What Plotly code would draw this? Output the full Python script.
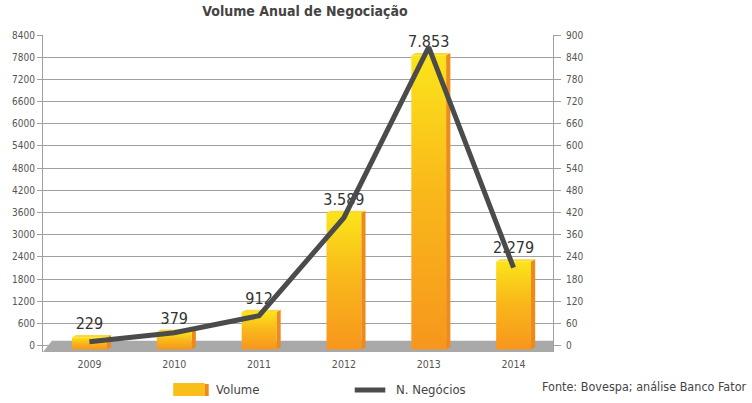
import plotly.graph_objects as go

# ---------------- data ----------------
years = ["2009", "2010", "2011", "2012", "2013", "2014"]
volume = [229, 379, 912, 3589, 7853, 2279]          # left axis (bars)
negocios = [11, 35, 81, 346, 807, 211]               # right axis (line), read on the uniform grid
left_ticks = [0, 600, 1200, 1800, 2400, 3000, 3600, 4200, 4800, 5400, 6000, 6600, 7200, 7800, 8400]
right_tick_labels = ["0", "60", "120", "180", "240", "360", "420", "480", "540",
                     "600", "660", "720", "780", "840", "900"]

# ---------------- geometry / style ----------------
W, H = 752, 403
PL, PR, PT, PB = 36, 553, 35, 352   # plot area in px
YMIN = -170
XMIN, XMAX = -0.547, 5.465
BASE = -100
HALF = 0.205        # half width of bar front face (category units)
SIDE = 0.05         # side face width
LABEL_PAD = 110     # label lift above bar top (data units)
FONT = "Liberation Sans Narrow, DejaVu Sans Condensed, Roboto, sans-serif"
GRID = "#a0a0a0"
TXT = "#555555"


def px_x(px):
    return (px - PL) / (PR - PL)


def px_y(py):
    return (PB - py) / (PB - PT)


fig = go.Figure()

xs = list(range(len(years)))

# bars as gradient-filled polygons built from the data values
for i, v in zip(xs, volume):
    fig.add_trace(go.Scatter(
        x=[i + HALF, i + HALF + SIDE, i + HALF + SIDE, i + HALF, i + HALF],
        y=[BASE, BASE + 60, v + 60, v, BASE],
        fill="toself", mode="lines", line=dict(width=0),
        fillcolor="#EE8A1C", showlegend=False, hoverinfo="skip"))
    fig.add_trace(go.Scatter(
        x=[i - HALF, i + HALF, i + HALF + SIDE, i - HALF + SIDE, i - HALF],
        y=[v, v, v + 60, v + 60, v],
        fill="toself", mode="lines", line=dict(width=0),
        fillcolor="#F9D93A", showlegend=False, hoverinfo="skip"))
    fig.add_trace(go.Scatter(
        x=[i - HALF, i + HALF, i + HALF, i - HALF, i - HALF],
        y=[BASE, BASE, v, v, BASE],
        fill="toself", mode="lines", line=dict(width=0),
        fillgradient=dict(type="vertical",
                          colorscale=[[0, "#F7961D"], [0.55, "#F9B91A"], [1, "#FBE41A"]]),
        fillcolor="#F9C118",
        name="Volume", showlegend=False, hoverinfo="skip"))

# line on right axis
fig.add_trace(go.Scatter(
    x=xs, y=negocios, mode="lines", yaxis="y2",
    line=dict(color="#4b4b4b", width=5), name="N. Negócios", showlegend=False))

# value labels
labels = [f"{v:,}".replace(",", ".") for v in volume]
fig.add_trace(go.Scatter(
    x=xs, y=[v + LABEL_PAD for v in volume], mode="text", text=labels,
    textposition="top center",
    textfont=dict(family=FONT, size=16, color="#333333"),
    showlegend=False, hoverinfo="skip", cliponaxis=False))

# grey floor
x_top_left = XMIN + (45 - 36) / 86
fig.add_shape(type="path", xref="x", yref="y", layer="between",
              path=f"M {XMIN},{YMIN} L {XMAX},{YMIN} L {XMAX},{135} L {x_top_left},{135} Z",
              fillcolor="#a9a9a9", line=dict(width=0))

# legend (manual)
fig.add_shape(type="rect", xref="paper", yref="paper",
              x0=px_x(168), x1=px_x(200), y0=px_y(396), y1=px_y(383),
              fillcolor="#F9BE18", line=dict(width=0))
fig.add_shape(type="rect", xref="paper", yref="paper",
              x0=px_x(200), x1=px_x(204), y0=px_y(396), y1=px_y(384),
              fillcolor="#EE8A1C", line=dict(width=0))
fig.add_shape(type="line", xref="paper", yref="paper",
              x0=px_x(352), x1=px_x(383), y0=px_y(390), y1=px_y(390),
              line=dict(color="#4b4b4b", width=5))
fig.add_annotation(text="Volume", xref="paper", yref="paper", x=px_x(209), y=px_y(389),
                   xanchor="left", yanchor="middle", showarrow=False,
                   font=dict(family=FONT, size=13, color="#444444"))
fig.add_annotation(text="N. Negócios", xref="paper", yref="paper", x=px_x(392), y=px_y(389),
                   xanchor="left", yanchor="middle", showarrow=False,
                   font=dict(family=FONT, size=13, color="#444444"))
fig.add_annotation(text="Fonte: Bovespa; análise Banco Fator", xref="paper", yref="paper",
                   x=px_x(540), y=px_y(386), xanchor="left", yanchor="middle", showarrow=False,
                   font=dict(family=FONT, size=12.5, color="#444444"))

fig.update_layout(
    width=W, height=H,
    margin=dict(l=PL, r=W - PR, t=PT, b=H - PB),
    paper_bgcolor="white", plot_bgcolor="white",
    title=dict(text="<b>Volume Anual de Negociação</b>", x=305 / W, xanchor="center",
               y=1 - 11 / H, yanchor="middle",
               font=dict(family=FONT, size=14, color="#444444")),
    xaxis=dict(range=[XMIN, XMAX], tickvals=xs, ticktext=years, showgrid=False,
               zeroline=False, showline=False, ticks="", ticklabelstandoff=4,
               tickfont=dict(family=FONT, size=10.5, color=TXT)),
    yaxis=dict(range=[YMIN, 8400], tickvals=left_ticks, ticktext=[str(t) for t in left_ticks],
               showgrid=True, gridcolor=GRID, gridwidth=1, zeroline=False,
               showline=True, linecolor=GRID, linewidth=1,
               ticks="outside", ticklen=5, tickcolor=GRID,
               tickfont=dict(family=FONT, size=10, color=TXT)),
    yaxis2=dict(overlaying="y", side="right", range=[YMIN / 10, 840],
                tickvals=[60 * k for k in range(15)], ticktext=right_tick_labels,
                showgrid=False, zeroline=False, showline=True, linecolor=GRID, linewidth=1,
                ticks="outside", ticklen=7, tickcolor=GRID, ticklabelstandoff=3,
                tickfont=dict(family=FONT, size=10, color=TXT)),
    showlegend=False,
)

fig.write_html("out.html", config={"displayModeBar": False},
               post_script="document.body.style.margin='0';")
